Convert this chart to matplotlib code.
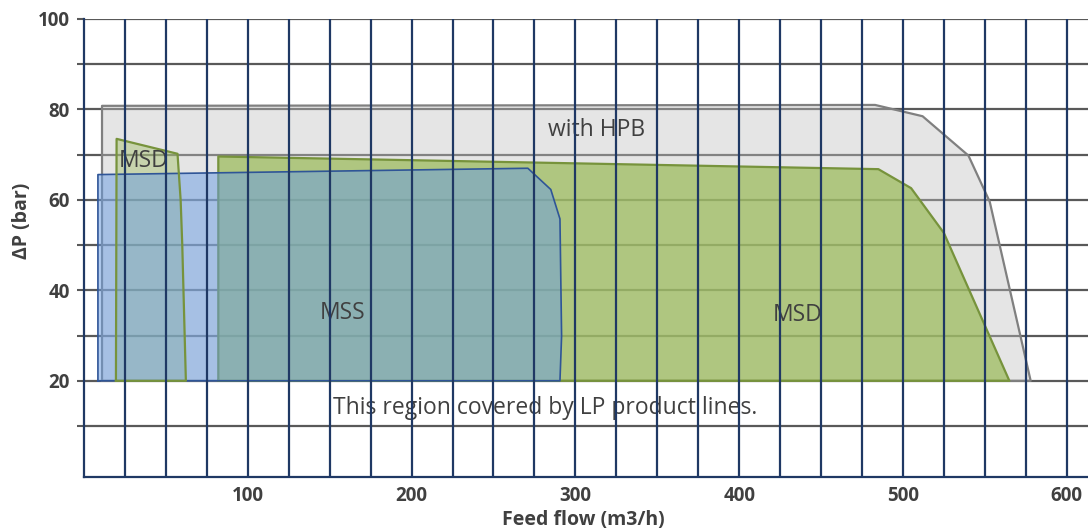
import matplotlib
matplotlib.use("Agg")
import matplotlib.pyplot as plt
import numpy as np

plt.rcParams['font.family'] = ['Open Sans', 'DejaVu Sans']

# ---- data ----
hpb_x = [11, 11, 483, 512, 540, 553, 578]
hpb_y = [20, 80.8, 81.0, 78.5, 69.8, 59.6, 20]

msd_big_x = [82, 82, 485, 505, 525, 565]
msd_big_y = [20, 69.6, 66.8, 62.6, 52.7, 20]

msd_small_x = [19.5, 19.9, 57.1, 59.0, 60.0, 62.2]
msd_small_y = [20, 73.5, 70.2, 60.0, 50.0, 20]

mss_x = [8.5, 8.5, 271, 285, 290.6, 291.6, 290.6]
mss_y = [20, 65.6, 67.0, 62.3, 55.8, 29.9, 20]

x_label_ticks = [100, 200, 300, 400, 500, 600]
y_label_ticks = [20, 40, 60, 80, 100]
x_grid = np.arange(25, 601, 25)
y_grid = np.arange(10, 101, 10)

labels = [
    ("with HPB", 312.8, 75.4),
    ("MSS", 157.7, 35.0),
    ("MSD", 436.0, 34.5),
    ("MSD", 36.6, 68.7),
    ("This region covered by LP product lines.", 281.4, 13.9),
]

# ---- figure ----
fig = plt.figure(figsize=(10.88, 5.29), dpi=100)
ax = fig.add_axes([84/1088, 1 - 476.7/529, 1 - 84/1088, (476.7 - 19)/529])
ax.set_xlim(0, 613)
ax.set_ylim(-1.2, 100)

navy = '#1F3864'
for y in y_grid:
    ax.axhline(y, color='#595959', lw=1.6, zorder=0.5)
for x in x_grid:
    ax.axvline(x, color=navy, lw=1.6, zorder=6)

ax.fill(hpb_x, hpb_y, facecolor='#C0C0C0', alpha=0.4, edgecolor='none', zorder=1)
ax.plot(hpb_x + [hpb_x[0]], hpb_y + [hpb_y[0]], color='#808080', lw=1.6, zorder=1.1)

ax.fill(msd_big_x, msd_big_y, facecolor='#9BBB59', alpha=0.72, edgecolor='none', zorder=2)
ax.plot(msd_big_x + [msd_big_x[0]], msd_big_y + [msd_big_y[0]], color='#77933C', lw=1.6, zorder=2.1)

ax.fill(msd_small_x, msd_small_y, facecolor='#9BBB59', alpha=0.4, edgecolor='none', zorder=2.5)

ax.fill(mss_x, mss_y, facecolor='#689CE4', alpha=0.5, edgecolor='none', zorder=3)
ax.plot(mss_x + [mss_x[0]], mss_y + [mss_y[0]], color='#2F5597', lw=1.2, zorder=3.1)

ax.plot(msd_small_x + [msd_small_x[0]], msd_small_y + [msd_small_y[0]], color='#77933C', lw=1.6, zorder=4)

for txt, x, y in labels:
    ax.text(x, y, txt, ha='center', va='center', fontsize=16.5, color='#404040', zorder=5)

# axes styling
for s in ['top', 'right']:
    ax.spines[s].set_visible(False)
for s in ['left', 'bottom']:
    ax.spines[s].set_color(navy)
    ax.spines[s].set_linewidth(1.6)
    ax.spines[s].set_zorder(7)

ax.set_xticks(x_label_ticks)
ax.set_xticklabels([str(v) for v in x_label_ticks], fontsize=13.5, fontweight='bold', color='#404040')
ax.tick_params(axis='x', length=0, pad=7)
ax.set_yticks(list(y_grid))
ax.set_yticklabels([str(v) if v in y_label_ticks else '' for v in y_grid],
                   fontsize=13.5, fontweight='bold', color='#404040')
ax.tick_params(axis='y', length=5, width=1.5, color='#595959', pad=5)

ax.set_xlabel('Feed flow (m3/h)', fontsize=14, fontweight='bold', color='#404040')
ax.xaxis.set_label_coords((583 - 84) / 1004, -(520 - 476.7) / 457.7)
ax.set_ylabel('ΔP (bar)', fontsize=14, fontweight='bold', color='#404040')
ax.yaxis.set_label_coords((22 - 84) / 1004, (476.7 - 221) / 457.7)
ax.xaxis.label.set_verticalalignment('center')
ax.yaxis.label.set_verticalalignment('center')

fig.savefig('out.png', dpi=100)
